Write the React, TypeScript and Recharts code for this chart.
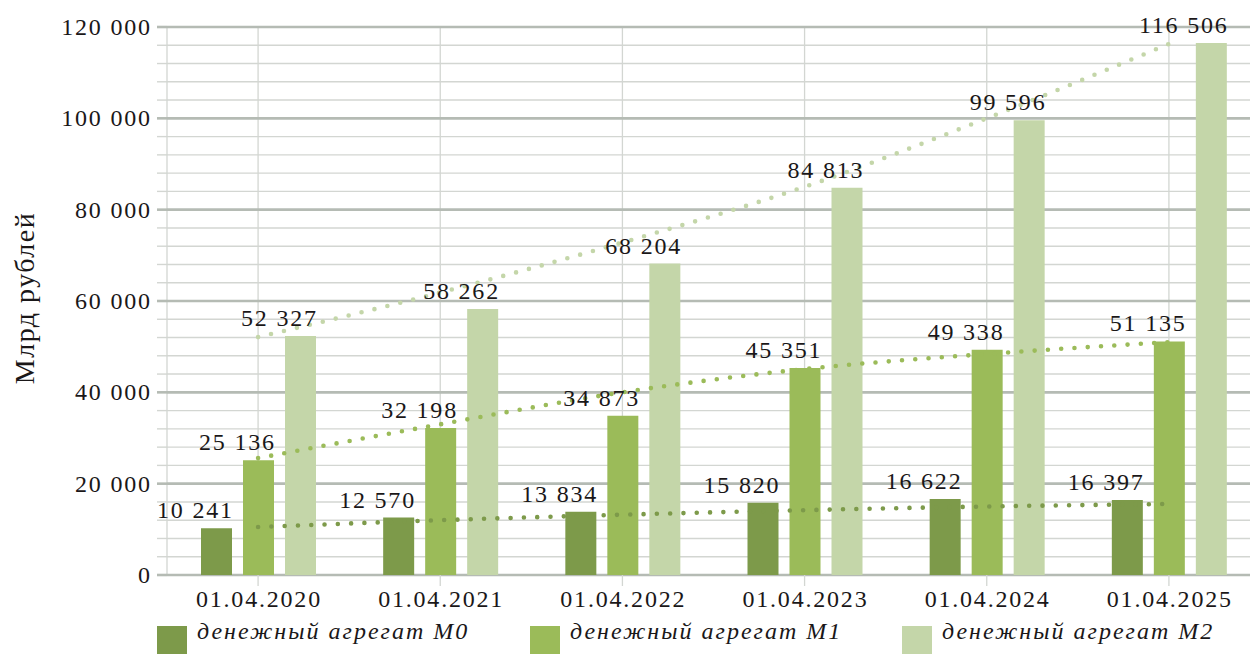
import { ComposedChart, Bar, Line, XAxis, YAxis, CartesianGrid, LabelList } from 'recharts';

const years = ['01.04.2020', '01.04.2021', '01.04.2022', '01.04.2023', '01.04.2024', '01.04.2025'];
const m0 = [10241, 12570, 13834, 15820, 16622, 16397];
const m1 = [25136, 32198, 34873, 45351, 49338, 51135];
const m2 = [52327, 58262, 68204, 84813, 99596, 116506];
// dotted trend lines at each date
const m0Trend = [10500, 12000, 13200, 14200, 15000, 15550];
const m1Trend = [25600, 33000, 40000, 45100, 48400, 51000];
const m2Trend = [52100, 61850, 72800, 85000, 100000, 116300];
const seriesNames = ['денежный агрегат М0', 'денежный агрегат М1', 'денежный агрегат М2'];

const majorTicks = [0, 20000, 40000, 60000, 80000, 100000, 120000];
const minorTicks = Array.from({ length: 31 }, (_, i) => i * 4000);
const bounds = [0, 1, 2, 3, 4, 5, 6];

const C0 = '#7d9a4a';
const C1 = '#9bbb59';
const C2 = '#c4d6a9';
const GRID_MAJOR = '#b5bbb4';
const GRID_MINOR = '#d3d6d2';
const TEXT = '#1a1718';
const FONT = '"Liberation Serif", "DejaVu Serif", serif';
const FS = 24;
const LS = 1.8;

const data = years.map((year, i) => ({
  year,
  m0: m0[i],
  m1: m1[i],
  m2: m2[i],
  t0: m0Trend[i],
  t1: m1Trend[i],
  t2: m2Trend[i],
}));

const fmt = (v: number) => String(v).replace(/\B(?=(\d{3})+(?!\d))/g, ' ');

const ValueLabel = (props: any) => {
  const { x, y, width, value } = props;
  return (
    <text
      x={Number(x) + Number(width) + LS}
      y={Number(y) - 10}
      textAnchor="end"
      fontSize={FS}
      letterSpacing={LS}
      fontFamily={FONT}
      fill={TEXT}
    >
      {fmt(Number(value))}
    </text>
  );
};

const YTick = (props: any) => {
  const { x, y, payload } = props;
  const v = Number(payload.value);
  const major = v % 20000 === 0;
  return (
    <g>
      <line
        x1={x + 7}
        x2={x + 17}
        y1={y}
        y2={y}
        stroke={major ? GRID_MAJOR : GRID_MINOR}
        strokeWidth={major ? 2.6 : 1.4}
      />
      {major && (
        <text x={x + LS} y={y} dy="0.33em" textAnchor="end" fontSize={FS} letterSpacing={LS} fontFamily={FONT} fill={TEXT}>
          {fmt(v)}
        </text>
      )}
    </g>
  );
};

const XTick = (props: any) => {
  const { x, y, payload } = props;
  return (
    <text x={x + LS / 2} y={y} dy="0.68em" textAnchor="middle" fontSize={FS} letterSpacing={LS} fontFamily={FONT} fill={TEXT}>
      {payload.value}
    </text>
  );
};

const legendColors = [C0, C1, C2];
const legendX = [157, 530, 902];

export default function App() {
  return (
    <div style={{ position: 'absolute', left: 0, top: 0, width: 1250, height: 654, overflow: 'hidden', background: '#fff' }}>
      <ComposedChart
        width={1262}
        height={654}
        data={data}
        margin={{ top: 27, right: 2, left: 0, bottom: 49 }}
        barGap={11}
      >
        <XAxis
          xAxisId="n"
          type="number"
          domain={[0, 6]}
          ticks={bounds}
          height={0}
          tick={false}
          axisLine={false}
          tickSize={12}
          tickLine={{ stroke: GRID_MAJOR, strokeWidth: 2.6 }}
          allowDataOverflow
        />
        <XAxis
          dataKey="year"
          height={30}
          interval={0}
          axisLine={false}
          tickSize={11}
          tickMargin={5}
          tickLine={{ stroke: GRID_MINOR, strokeWidth: 1.3 }}
          tick={<XTick />}
        />
        <YAxis
          width={167}
          domain={[0, 120000]}
          ticks={minorTicks}
          interval={0}
          axisLine={false}
          tickLine={false}
          tickSize={10}
          tickMargin={7}
          tick={<YTick />}
        />
        <CartesianGrid vertical={false} horizontalValues={minorTicks} stroke={GRID_MINOR} strokeWidth={1.4} />
        <CartesianGrid horizontal={false} stroke={GRID_MINOR} strokeWidth={1.3} />
        <CartesianGrid xAxisId="n" horizontal={false} verticalValues={bounds} stroke={GRID_MAJOR} strokeWidth={2.6} />
        <CartesianGrid vertical={false} horizontalValues={majorTicks} stroke={GRID_MAJOR} strokeWidth={2.6} />
        <Bar dataKey="m0" fill={C0} barSize={31} isAnimationActive={false}>
          <LabelList dataKey="m0" content={<ValueLabel />} />
        </Bar>
        <Bar dataKey="m1" fill={C1} barSize={31} isAnimationActive={false}>
          <LabelList dataKey="m1" content={<ValueLabel />} />
        </Bar>
        <Bar dataKey="m2" fill={C2} barSize={31} isAnimationActive={false}>
          <LabelList dataKey="m2" content={<ValueLabel />} />
        </Bar>
        <Line dataKey="t0" type="monotone" stroke={C0} strokeWidth={4.6} strokeDasharray="0 13.3" strokeLinecap="round" dot={false} activeDot={false} isAnimationActive={false} />
        <Line dataKey="t1" type="monotone" stroke={C1} strokeWidth={4.6} strokeDasharray="0 13.3" strokeLinecap="round" dot={false} activeDot={false} isAnimationActive={false} />
        <Line dataKey="t2" type="monotone" stroke={C2} strokeWidth={4.6} strokeDasharray="0 13.3" strokeLinecap="round" dot={false} activeDot={false} isAnimationActive={false} />
      </ComposedChart>
      <div
        style={{
          position: 'absolute',
          left: 23.5,
          top: 298,
          transform: 'translate(-50%, -50%) rotate(-90deg)',
          whiteSpace: 'nowrap',
          fontFamily: FONT,
          fontSize: 28,
          letterSpacing: 1.5,
          lineHeight: '31px',
          color: TEXT,
        }}
      >
        Млрд рублей
      </div>
      {seriesNames.map((name, i) => (
        <div key={name}>
          <div style={{ position: 'absolute', left: legendX[i], top: 626, width: 30, height: 30, background: legendColors[i] }} />
          <div
            style={{
              position: 'absolute',
              left: legendX[i] + 40,
              top: 619,
              fontFamily: FONT,
              fontStyle: 'italic',
              fontSize: 24,
              lineHeight: '24px',
              letterSpacing: 2,
              whiteSpace: 'nowrap',
              color: TEXT,
            }}
          >
            {name}
          </div>
        </div>
      ))}
    </div>
  );
}
